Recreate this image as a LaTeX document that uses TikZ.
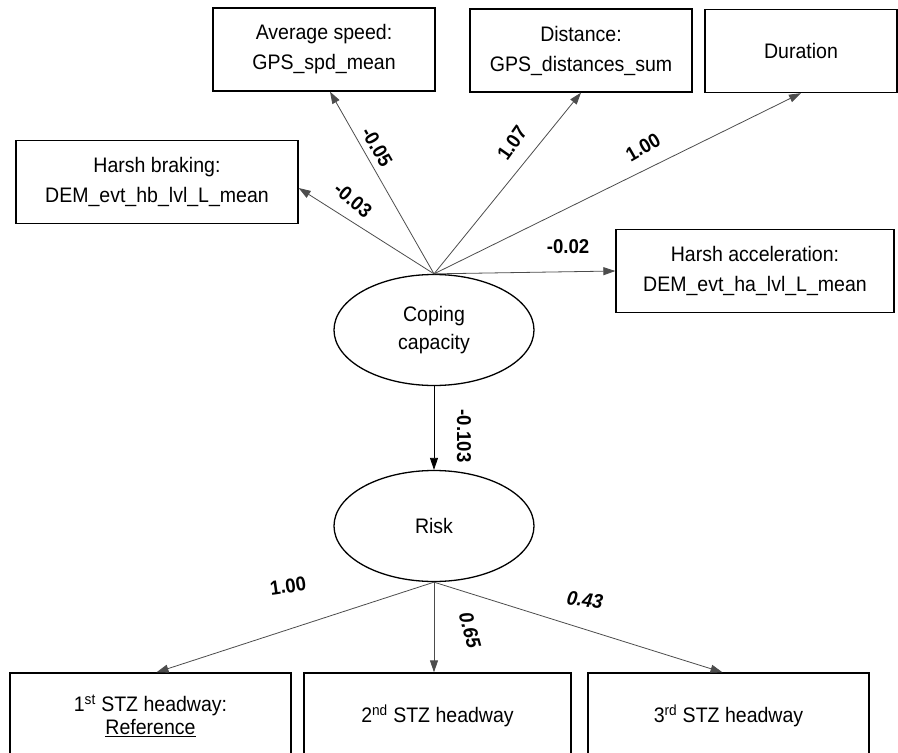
\documentclass[tikz,border=0pt]{standalone}
\usepackage{fontspec}
\setmainfont[FakeStretch=0.93]{Liberation Sans}
\usetikzlibrary{shapes,arrows.meta}

\begin{document}
\begin{tikzpicture}[x=1pt, y=-1pt, >={Triangle[length=12pt,width=8pt]},
	box/.style={draw, line width=1.3pt, minimum width=#1, minimum height=83pt, align=center, font=\fontsize{21}{30}\selectfont},
	lowbox/.style={draw, line width=1.3pt, minimum width=#1, minimum height=86pt, align=center, font=\fontsize{21}{23}\selectfont},
	latent/.style={draw, ellipse, line width=1.3pt, minimum width=200pt, minimum height=111pt, align=center, font=\fontsize{21}{28}\selectfont},
	wt/.style={font=\fontsize{20}{20}\selectfont\bfseries, inner sep=0pt},
	load/.style={->, draw=black!70, line width=0.8pt}]
	
		\useasboundingbox (0,0) rectangle (898,753);
		
		\node (coping) [latent] at (434,330) {Coping\\capacity};
		\node (risk) [latent] at (434,526) {Risk};
		
		\node (avgspd) [box=222pt] at (324,49.5) {Average speed:\\GPS\_spd\_mean};
		\node (dist) [box=222pt] at (581,50.5) {Distance:\\GPS\_distances\_sum};
		\node (duration) [box=192pt] at (801,51) {Duration};
		\node (harshbrk) [box=282pt] at (157,182) {Harsh braking:\\DEM\_evt\_hb\_lvl\_L\_mean};
		\node (harshacc) [box=278pt] at (755,271) {Harsh acceleration:\\DEM\_evt\_ha\_lvl\_L\_mean};
		
		\node (stz1) [lowbox=281pt] at (150.5,716) {1\textsuperscript{st} STZ headway:\\\underline{Reference}};
		\node (stz2) [lowbox=267pt] at (437.5,716) {2\textsuperscript{nd} STZ headway};
		\node (stz3) [lowbox=281pt] at (728.5,716) {3\textsuperscript{rd} STZ headway};
		
		\draw[load] (coping.north) -- ([xshift=6pt]avgspd.south);
		\draw[load] (coping.north) -- ([yshift=-6pt]harshbrk.east);
		\draw[load] (coping.north) -- (dist.south);
		\draw[load] (coping.north) -- (duration.south);
		\draw[load] (coping.north) -- (harshacc.west);
		\draw[load, draw=black] (coping.south) -- (risk.north);
		\draw[load] (risk.south) -- ([xshift=6pt]stz1.north);
		\draw[load] (risk.south) -- (risk.south |- stz2.north);
		\draw[load] (risk.south) -- ([xshift=-6pt]stz3.north);
		
		% loadings
		\node (wavg) [wt, rotate=-60] at (377,147) {-0.05};
		\node (whb) [wt, rotate=-40] at (353,200) {-0.03};
		\node (wdist) [wt, rotate=55] at (512,143) {1.07};
		\node (wdur) [wt, rotate=30] at (643,147) {1.00};
		\node (wacc) [wt] at (568,247) {-0.02};
		\node (wrisk) [wt, rotate=-90] at (464,436) {-0.103};
		\node (ws1) [wt, rotate=8] at (288,586) {1.00};
		\node (ws2) [wt, font=\fontsize{20}{20}\selectfont\bfseries\itshape, rotate=-75] at (470,630) {0.65};
		\node (ws3) [wt, font=\fontsize{20}{20}\selectfont\bfseries\itshape, rotate=-8] at (585,600) {0.43};
		
	\end{tikzpicture}
\end{document}
